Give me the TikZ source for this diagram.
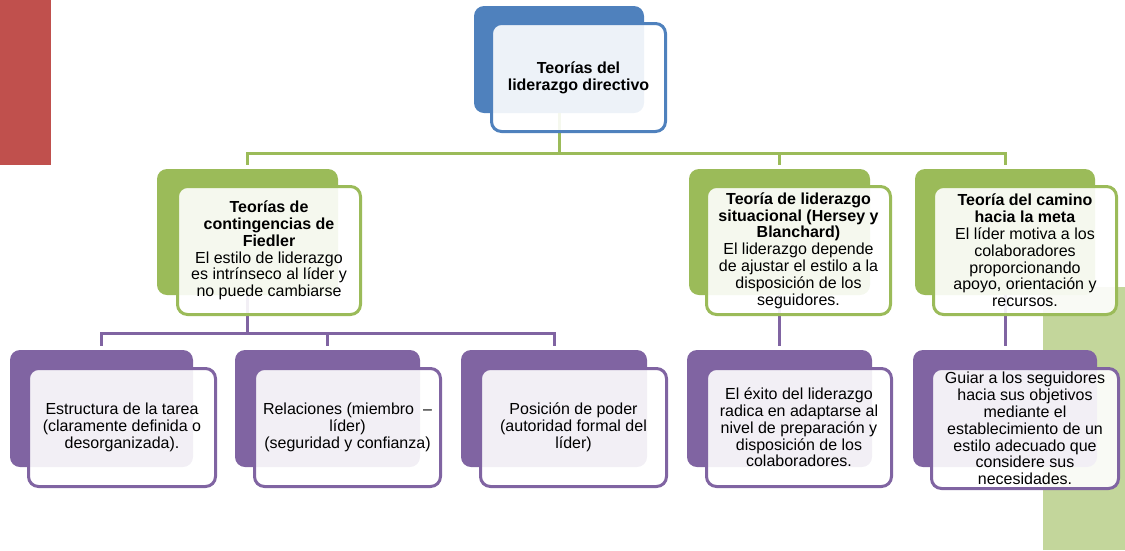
\documentclass[tikz,border=0pt]{standalone}
\usepackage{fontspec}
\setmainfont{Liberation Sans}
\definecolor{cblue}{HTML}{4F81BD}
\definecolor{cgreen}{HTML}{9BBB59}
\definecolor{cpurple}{HTML}{8064A2}
\definecolor{cred}{HTML}{C0504D}
\definecolor{clight}{HTML}{C3D69B}
\tikzset{
  backbox/.style={rectangle, rounded corners=10pt, inner sep=0pt, draw=none},
  frontbox/.style={rectangle, rounded corners=10pt, inner sep=0pt, line width=3pt,
    fill=white, fill opacity=0.9, text opacity=1, align=center, text=black,
    font=\fontsize{16}{16.8}\selectfont},
  link/.style={line width=3pt},
}
\begin{document}
\begin{tikzpicture}[x=1pt,y=-1pt]
\useasboundingbox (0,0) rectangle (1125,550);

% decorative side bands
\fill[cred] (0,0) rectangle (51,165);
\fill[clight] (1043,287) rectangle (1125,550);

% coloured back panels
\node[backbox, fill=cblue, minimum width=170pt, minimum height=107pt] (tb) at (559,59.5) {};
\node[backbox, fill=cgreen, minimum width=181pt, minimum height=126pt] (g1b) at (247.5,232) {};
\node[backbox, fill=cgreen, minimum width=181pt, minimum height=126pt] (g2b) at (779.5,232) {};
\node[backbox, fill=cgreen, minimum width=180pt, minimum height=126pt] (g3b) at (1005,232) {};
\node[backbox, fill=cpurple, minimum width=183pt, minimum height=117pt] (p1b) at (101.5,408.5) {};
\node[backbox, fill=cpurple, minimum width=185pt, minimum height=117pt] (p2b) at (327.5,408.5) {};
\node[backbox, fill=cpurple, minimum width=186pt, minimum height=117pt] (p3b) at (554,408.5) {};
\node[backbox, fill=cpurple, minimum width=185pt, minimum height=117pt] (p4b) at (779.5,408.5) {};
\node[backbox, fill=cpurple, minimum width=184pt, minimum height=117pt] (p5b) at (1005,408.5) {};

% connectors
\coordinate (gbar) at (0,153);
\coordinate (pbar) at (0,333);
\draw[link, cgreen] (tb.south) -- (tb.south |- gbar);
\draw[link, cgreen, shorten <=4pt, shorten >=4pt]
  (g1b.north) -- (g1b.north |- gbar) -- (g3b.north |- gbar) -- (g3b.north);
\draw[link, cgreen, shorten >=4pt] (g2b.north |- gbar) -- (g2b.north);
\draw[link, cpurple] (g1b.south) -- (g1b.south |- pbar);
\draw[link, cpurple, shorten <=4pt, shorten >=4pt]
  (p1b.north) -- (p1b.north |- pbar) -- (p3b.north |- pbar) -- (p3b.north);
\draw[link, cpurple, shorten >=4pt] (p2b.north |- pbar) -- (p2b.north);
\draw[link, cpurple, shorten >=4pt] (g2b.south) -- (p4b.north);
\draw[link, cpurple, shorten >=4pt] (g3b.south) -- (p5b.north);

% front panels with text
\node[frontbox, draw=cblue, minimum width=174pt, minimum height=108pt] (t) at (578.5,77.5)
  {\textbf{Teorías del}\\\textbf{liderazgo directivo}};
\node[frontbox, draw=cgreen, minimum width=183pt, minimum height=128pt] (g1) at (269,250.5)
  {\textbf{Teorías de}\\\textbf{contingencias de}\\\textbf{Fiedler}\\El estilo de liderazgo\\es intrínseco al líder y\\no puede cambiarse};
\node[frontbox, draw=cgreen, minimum width=184pt, minimum height=128pt] (g2) at (798.5,250.5)
  {\textbf{Teoría de liderazgo}\\\textbf{situacional (Hersey y}\\\textbf{Blanchard)}\\El liderazgo depende\\de ajustar el estilo a la\\disposición de los\\seguidores.};
\node[frontbox, draw=cgreen, minimum width=183pt, minimum height=128pt] (g3) at (1025,250.5)
  {\textbf{Teoría del camino}\\\textbf{hacia la meta}\\El líder motiva a los\\colaboradores\\proporcionando\\apoyo, orientación y\\recursos.};
\node[frontbox, draw=cpurple, minimum width=187pt, minimum height=118pt] (p1) at (122,427.5)
  {Estructura de la tarea\\(claramente definida o\\desorganizada).};
\node[frontbox, draw=cpurple, minimum width=186pt, minimum height=118pt] (p2) at (347.5,427.5)
  {Relaciones (miembro \ –\\líder)\\(seguridad y confianza)};
\node[frontbox, draw=cpurple, minimum width=186pt, minimum height=118pt] (p3) at (573.5,427.5)
  {Posición de poder\\(autoridad formal del\\líder)};
\node[frontbox, draw=cpurple, minimum width=185pt, minimum height=118pt] (p4) at (799,427.5)
  {El éxito del liderazgo\\radica en adaptarse al\\nivel de preparación y\\disposición de los\\colaboradores.};
\node[frontbox, draw=cpurple, minimum width=187pt, minimum height=120pt] (p5) at (1025,428.5)
  {Guiar a los seguidores\\hacia sus objetivos\\mediante el\\establecimiento de un\\estilo adecuado que\\considere sus\\necesidades.};
\end{tikzpicture}
\end{document}
